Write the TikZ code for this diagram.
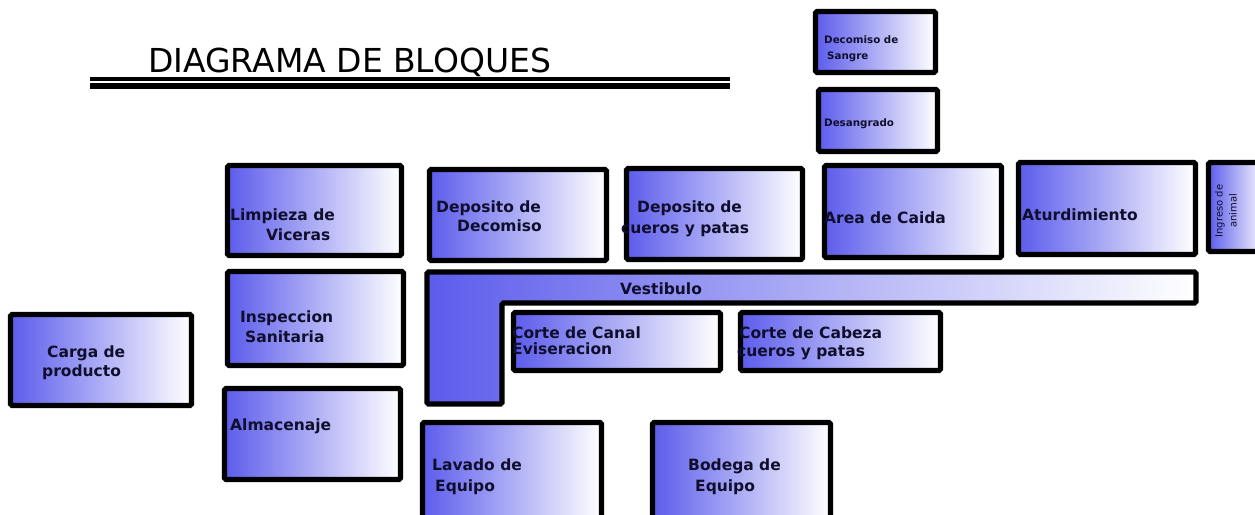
\documentclass[tikz,border=0pt]{standalone}
\usepackage{fontspec}
\setmainfont{DejaVu Sans}
\definecolor{boxblue}{RGB}{92,92,236}
\definecolor{ink}{RGB}{15,15,45}
\tikzset{
  blk/.style={draw=black, line width=5.2pt, rounded corners=1.5pt, left color=boxblue, right color=white, inner sep=0pt},
  lbl/.style={anchor=base west, inner sep=0pt, text=ink, font=\bfseries\fontsize{15.5}{19}\selectfont},
  small/.style={anchor=base west, inner sep=0pt, text=ink, font=\bfseries\fontsize{10.3}{12}\selectfont},
  rule/.style={line width=#1, draw=black},
}
\newcommand\blkbox[5]{\node[blk, minimum width={#4-#2-5}, minimum height={#5-#3-5}] (#1) at ({(#2+#4)/2},{(#3+#5)/2}) {};}
\begin{document}
\begin{tikzpicture}[x=1pt,y=-1pt]
\useasboundingbox (0,0) rectangle (1255,514);
\clip (0,0) rectangle (1255,514);
% title
\node[anchor=base west, inner sep=0pt, font=\fontsize{33}{36}\selectfont] (title) at (148,72) {DIAGRAMA DE BLOQUES};
\coordinate (r1a) at (90,79); \coordinate (r1b) at (730,79);
\coordinate (r2a) at (90,86); \coordinate (r2b) at (730,86);
\draw[rule=3.8pt] (r1a) -- (r1b);
\draw[rule=5.2pt] (r2a) -- (r2b);
% boxes
\blkbox{carga}{8}{312}{194}{408}
\blkbox{limp}{225}{163}{404}{258}
\blkbox{insp}{225}{269}{406}{368}
\blkbox{alma}{222}{386}{403}{482}
\blkbox{depd}{427}{167}{609}{263}
\blkbox{depc}{624}{166}{805}{262}
\blkbox{area}{822}{163}{1004}{260}
\blkbox{atur}{1016}{160}{1198}{257}
\blkbox{ingr}{1206}{160}{1268}{254}
\blkbox{decs}{813}{9}{938}{75}
\blkbox{desa}{816}{87}{940}{154}
\blkbox{ccan}{511}{310}{723}{373}
\blkbox{ccab}{738}{310}{943}{373}
\blkbox{lava}{420}{420}{604}{530}
\blkbox{bode}{650}{420}{833}{530}
% vestibulo L shape
\coordinate (v1) at (427,272); \coordinate (v2) at (1196,272);
\coordinate (v3) at (1196,303); \coordinate (v4) at (502,303);
\coordinate (v5) at (502,404); \coordinate (v6) at (427,404);
\path[draw=black, line width=5.2pt, rounded corners=1.5pt, left color=boxblue, right color=white]
  (v1) -- (v2) -- (v3) -- (v4) -- (v5) -- (v6) -- cycle;
% labels
\node[lbl] (t-carga1) at (47,357) {Carga de};
\node[lbl] (t-carga2) at (42,376) {producto};
\node[lbl] (t-limp1) at (230,220) {Limpieza de};
\node[lbl] (t-limp2) at (266,240) {Viceras};
\node[lbl] (t-insp1) at (240,322) {Inspeccion};
\node[lbl] (t-insp2) at (245,342) {Sanitaria};
\node[lbl] (t-alma) at (230,430) {Almacenaje};
\node[lbl] (t-depd1) at (436,212) {Deposito de};
\node[lbl] (t-depd2) at (457,231) {Decomiso};
\node[lbl] (t-depc1) at (637,212) {Deposito de};
\node[lbl] (t-depc2) at (621,233) {cueros y patas};
\node[lbl] (t-area) at (824,223) {Area de Caida};
\node[lbl] (t-atur) at (1022,220) {Aturdimiento};
\node[lbl] (t-vest) at (620,294) {Vestibulo};
\node[lbl] (t-ccan1) at (512,338) {Corte de Canal};
\node[lbl] (t-ccan2) at (512,354) {Eviseracion};
\node[lbl] (t-ccab1) at (739,338) {Corte de Cabeza};
\node[lbl] (t-ccab2) at (737,356) {cueros y patas};
\node[lbl] (t-lava1) at (432,470) {Lavado de};
\node[lbl] (t-lava2) at (435,491) {Equipo};
\node[lbl] (t-bode1) at (688,470) {Bodega de};
\node[lbl] (t-bode2) at (695,491) {Equipo};
\node[small] (t-decs1) at (824,43) {Decomiso de};
\node[small] (t-decs2) at (827,59) {Sangre};
\node[small] (t-desa) at (824,126) {Desangrado};
\node[small, font=\fontsize{10}{14}\selectfont, anchor=center, align=center, rotate=90] (t-ingr) at (1226,211) {Ingreso de\\animal};
\end{tikzpicture}
\end{document}
